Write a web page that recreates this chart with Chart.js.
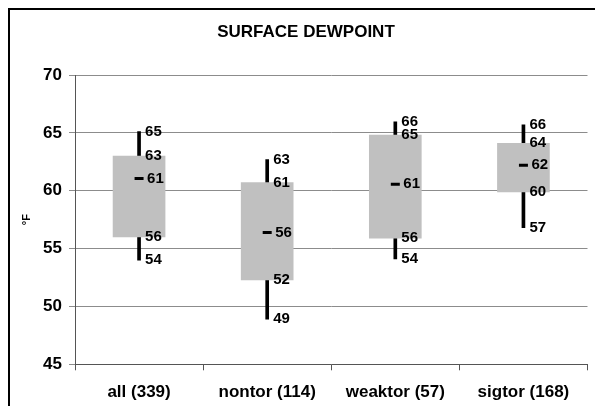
<!DOCTYPE html>
<html>
<head>
<meta charset="utf-8">
<script src="https://cdn.jsdelivr.net/npm/chart.js@4.4.1/dist/chart.umd.min.js"></script>
<style>
  html, body { margin: 0; padding: 0; background: #fff; overflow: hidden; }
  #wrap { position: relative; width: 595px; height: 406px; overflow: hidden; }
  #frame { position: absolute; left: 8px; top: 8px; width: 700px; height: 500px; border: 2px solid #000; box-sizing: border-box; }
  #c { position: absolute; left: 0; top: 0; }
</style>
</head>
<body>
<div id="wrap">
  <div id="frame"></div>
  <canvas id="c" width="595" height="406"></canvas>
</div>
<script>
// ---- data ----
const categories = ['all (339)', 'nontor (114)', 'weaktor (57)', 'sigtor (168)'];
const p10    = [54.0, 48.9, 54.1, 56.8];
const q1     = [56.0, 52.3, 55.9, 59.9];
const median = [61.05, 56.4, 60.55, 62.2];
const q3     = [63.0, 60.7, 64.8, 64.1];
const p90    = [65.1, 62.7, 65.96, 65.7];
const yTicks = [45, 50, 55, 60, 65, 70];

const FONT = '"Liberation Sans", Arial, sans-serif';

const whiskers = categories.map((_, i) => [p10[i], p90[i]]);
const boxes = categories.map((_, i) => [q1[i], q3[i]]);

const labelPlugin = {
  id: 'valueLabels',
  afterDatasetsDraw(chart) {
    const ctx = chart.ctx;
    const xs = chart.scales.x, ys = chart.scales.y;
    ctx.save();
    ctx.font = 'bold 15px ' + FONT;
    ctx.fillStyle = '#000';
    ctx.textAlign = 'left';
    ctx.textBaseline = 'middle';
    categories.forEach((_, i) => {
      const x = xs.getPixelForValue(i);
      [p10, q1, q3, p90].forEach(arr => {
        ctx.fillText(String(Math.round(arr[i])), x + 6, ys.getPixelForValue(arr[i]));
      });
      ctx.fillText(String(Math.round(median[i])), x + 8, ys.getPixelForValue(median[i]));
    });
    ctx.restore();
  }
};

new Chart(document.getElementById('c'), {
  type: 'bar',
  data: {
    labels: categories,
    datasets: [
      {
        type: 'line',
        label: 'median',
        data: median,
        showLine: false,
        pointStyle: 'line',
        pointRadius: 4.5,
        pointBorderWidth: 3,
        borderColor: '#000',
        backgroundColor: '#000',
        order: 0
      },
      {
        label: '25-75',
        data: boxes,
        backgroundColor: '#c0c0c0',
        borderWidth: 0,
        barThickness: 52,
        grouped: false,
        order: 1
      },
      {
        label: '10-90',
        data: whiskers,
        backgroundColor: '#000',
        borderWidth: 0,
        barThickness: 3,
        grouped: false,
        order: 2
      }
    ]
  },
  options: {
    responsive: false,
    animation: false,
    layout: { padding: { left: 18, right: 1, top: 0, bottom: 0 } },
    plugins: {
      legend: { display: false },
      tooltip: { enabled: false },
      title: {
        display: true,
        text: 'SURFACE DEWPOINT',
        color: '#000',
        font: { family: FONT, size: 17, weight: 'bold', lineHeight: 1.2 },
        padding: { top: 22.3, bottom: 32.3 }
      }
    },
    scales: {
      x: {
        type: 'category',
        offset: true,
        grid: { display: true, offset: true, drawOnChartArea: false, drawTicks: true, tickLength: 6, color: '#555' },
        border: { display: true, color: '#555', width: 1 },
        ticks: { color: '#000', font: { family: FONT, size: 17, weight: 'bold' }, padding: 12, maxRotation: 0 },
        afterFit: s => { s.height = 41.7; }
      },
      y: {
        min: 45,
        max: 70,
        afterBuildTicks: s => { s.ticks = yTicks.map(v => ({ value: v })); },
        grid: { color: '#8c8c8c', tickLength: 6, drawTicks: true },
        border: { display: true, color: '#555', width: 1 },
        ticks: { color: '#000', font: { family: FONT, size: 17, weight: 'bold' }, padding: 7 },
        title: {
          display: true,
          text: '°F',
          color: '#000',
          font: { family: FONT, size: 11, weight: 'bold' },
          padding: { top: 2.4, bottom: 0 }
        },
        afterFit: s => { s.width = 57; }
      }
    }
  },
  plugins: [labelPlugin]
});
</script>
</body>
</html>
